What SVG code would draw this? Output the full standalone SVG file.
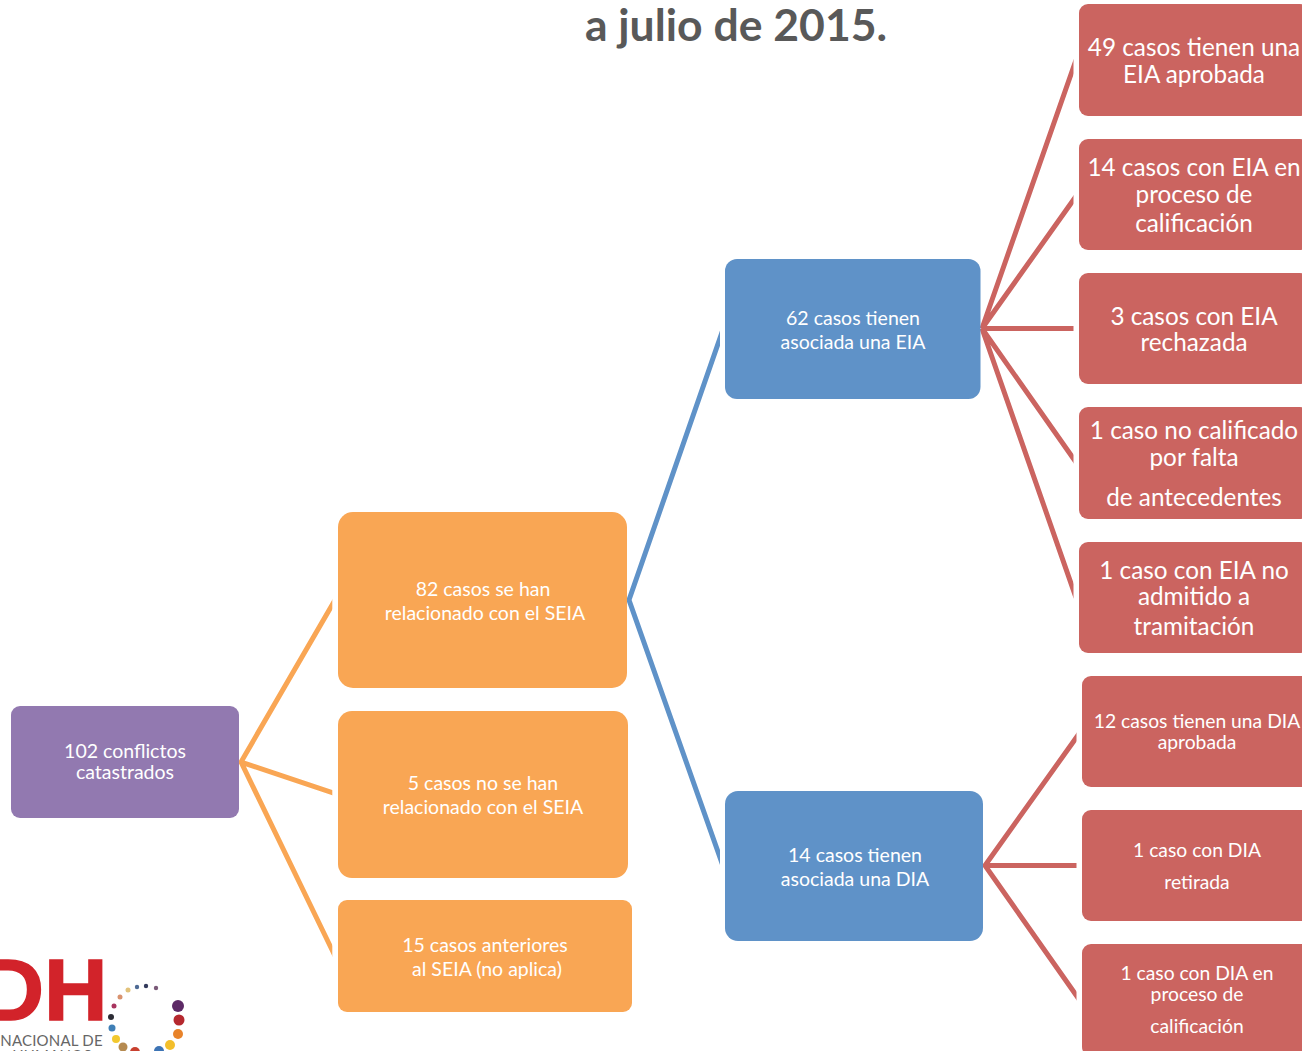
<svg xmlns="http://www.w3.org/2000/svg" width="1302" height="1051" viewBox="0 0 1302 1051">
<defs>
<clipPath id="c1"><rect x="200" y="500" width="132.300" height="551"/></clipPath>
<clipPath id="c2"><rect x="600" y="250" width="120" height="700"/></clipPath>
<clipPath id="c3"><rect x="960" y="0" width="113.500" height="700"/></clipPath>
<clipPath id="c4"><rect x="960" y="700" width="116.500" height="351"/></clipPath>
</defs>
<style>
text{font-family:Lato,"Liberation Sans",sans-serif;text-anchor:middle;fill:#fff}
.r{fill:#cb6460}.o{fill:#f9a654}.b{fill:#5f92c8}.p{fill:#9279b0}
.s{font-size:19.5px}.m{font-size:24.3px}.d{font-size:19.3px}
.cr,.co,.cb{fill:none;stroke-width:5}
.cr{stroke:#cb6460}.co{stroke:#f9a654}.cb{stroke:#5f92c8}
</style>
<rect width="1302" height="1051" fill="#fff"/>
<text x="736" y="41" style="font-size:44.500px;font-weight:700;fill:#595959">a julio de 2015.</text>
<g id="connectors">
<path class="co" clip-path="url(#c1)" d="M335 600L241 762L335 793.500M241 762L335 956"/>
<path class="cb" clip-path="url(#c2)" d="M723 329.400L629 600L723 866"/>
<path class="cr" clip-path="url(#c3)" d="M1076 60L982 328.500L1076 196.300M982 328.500H1076M982 328.500L1076 462.300M982 328.500L1076 597.600"/>
<path class="cr" clip-path="url(#c4)" d="M1079 733.800L985 865.500L1079 999.300M985 865.500H1079"/>
</g>
<g id="n-102"><rect class="p" x="11" y="706" width="228" height="112" rx="9"/><text class="s" x="125" y="758">102 conflictos</text><text class="s" x="125" y="779">catastrados</text></g>
<g id="n-82"><rect class="o" x="338" y="512" width="289" height="176" rx="15"/><text class="s" x="483" y="596">82 casos se han</text><text class="s" x="485" y="620">relacionado con el SEIA</text></g>
<g id="n-5"><rect class="o" x="338" y="711" width="290" height="167" rx="14"/><text class="s" x="483" y="790">5 casos no se han</text><text class="s" x="483" y="814">relacionado con el SEIA</text></g>
<g id="n-15"><rect class="o" x="338" y="900" width="294" height="112" rx="9"/><text class="s" x="485" y="952">15 casos anteriores</text><text class="s" x="487" y="976">al SEIA (no aplica)</text></g>
<g id="n-62"><rect class="b" x="725" y="259" width="255.500" height="140" rx="12"/><text class="s" x="853" y="325">62 casos tienen</text><text class="s" x="853" y="349">asociada una EIA</text></g>
<g id="n-14"><rect class="b" x="725" y="791" width="258" height="150" rx="13"/><text class="s" x="855" y="862">14 casos tienen</text><text class="s" x="855" y="886">asociada una DIA</text></g>
<g id="n-49"><rect class="r" x="1079" y="4" width="230" height="112" rx="9"/><text class="m" x="1194" y="55.500">49 casos tienen una</text><text class="m" x="1194" y="82.500">EIA aprobada</text></g>
<g id="n-14e"><rect class="r" x="1079" y="139" width="230" height="111" rx="9"/><text class="m" x="1194" y="175.500">14 casos con EIA en</text><text class="m" x="1194" y="202.500">proceso de</text><text class="m" x="1194" y="231.500">calificación</text></g>
<g id="n-3"><rect class="r" x="1079" y="273" width="230" height="111" rx="9"/><text class="m" x="1194" y="324.500">3 casos con EIA</text><text class="m" x="1194" y="350.500">rechazada</text></g>
<g id="n-1n"><rect class="r" x="1079" y="407" width="230" height="112" rx="9"/><text class="m" x="1194" y="438.500">1 caso no calificado</text><text class="m" x="1194" y="465.500">por falta</text><text class="m" x="1194" y="505.500">de antecedentes</text></g>
<g id="n-1a"><rect class="r" x="1079" y="542" width="230" height="111" rx="9"/><text class="m" x="1194" y="578.500">1 caso con EIA no</text><text class="m" x="1194" y="604.500">admitido a</text><text class="m" x="1194" y="634.500">tramitación</text></g>
<g id="n-12"><rect class="r" x="1082" y="676" width="230" height="111" rx="9"/><text class="d" x="1197" y="728">12 casos tienen una DIA</text><text class="d" x="1197" y="749">aprobada</text></g>
<g id="n-1r"><rect class="r" x="1082" y="810" width="230" height="111" rx="9"/><text class="d" x="1197" y="857">1 caso con DIA</text><text class="d" x="1197" y="889">retirada</text></g>
<g id="n-1p"><rect class="r" x="1082" y="944" width="230" height="112" rx="9"/><text class="d" x="1197" y="980">1 caso con DIA en</text><text class="d" x="1197" y="1001">proceso de</text><text class="d" x="1197" y="1033">calificación</text></g>
<g id="logo">
<text x="44" y="1020" style="font-family:'Liberation Sans',sans-serif;font-size:88px;font-weight:700;fill:#d2232a;stroke:#d2232a;stroke-width:1.500">DH</text>
<text x="51.500" y="1046" style="font-size:15px;fill:#666;letter-spacing:.2px">NACIONAL DE</text>
<text x="52" y="1061" style="font-size:15px;fill:#666;letter-spacing:.2px">HUMANOS</text>
<g>
<circle cx="178" cy="1006" r="6" fill="#5d2a66"/><circle cx="179" cy="1020" r="5.500" fill="#b5282e"/><circle cx="178" cy="1034" r="5" fill="#e8832a"/><circle cx="170" cy="1045" r="5" fill="#f3bf2b"/><circle cx="159" cy="1051" r="5" fill="#3d74b5"/><circle cx="135" cy="1052" r="5" fill="#c8402f"/><circle cx="123" cy="1047" r="4.500" fill="#b58a50"/><circle cx="116" cy="1039" r="4" fill="#f2c82e"/><circle cx="112" cy="1028" r="3.500" fill="#3f7fb6"/><circle cx="111" cy="1017" r="3" fill="#2c2c35"/><circle cx="114" cy="1006" r="2.500" fill="#a8345f"/><circle cx="120" cy="997" r="2.500" fill="#d9926e"/><circle cx="128" cy="990" r="2.500" fill="#e2c27a"/><circle cx="137" cy="987" r="2.200" fill="#4e6a94"/><circle cx="146" cy="986" r="2.200" fill="#333a5c"/><circle cx="156" cy="988" r="2.200" fill="#7a5a78"/>
</g>
</g>
</svg>
